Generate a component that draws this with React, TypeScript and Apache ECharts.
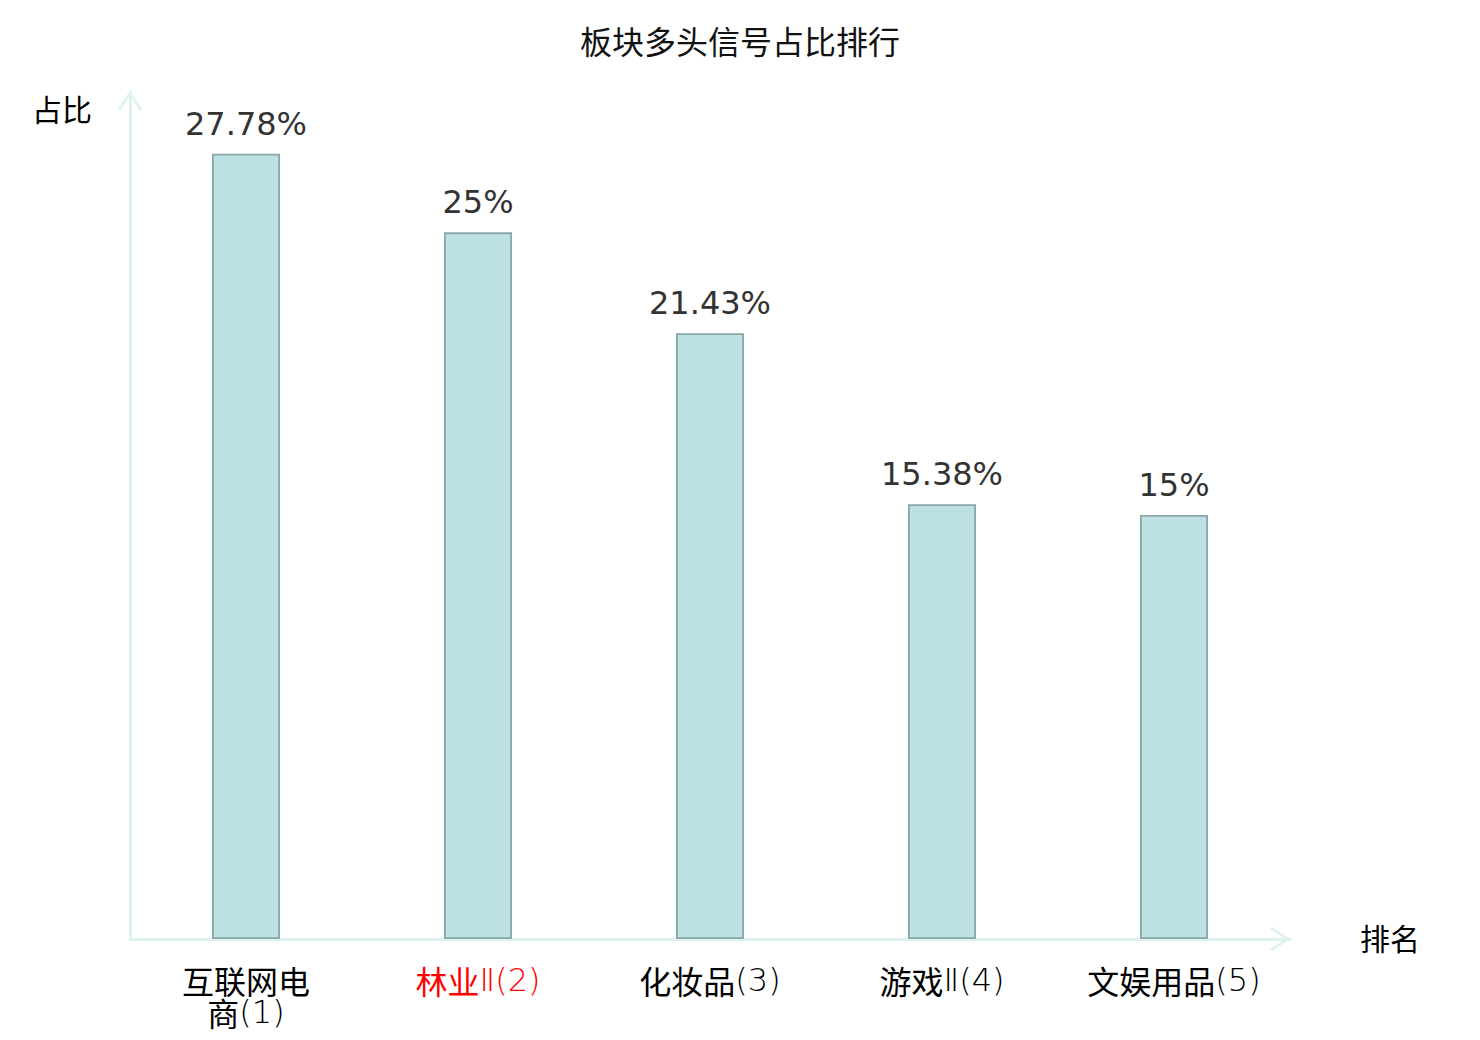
import React, { useEffect, useRef } from 'react';
import * as echarts from 'echarts';

const titleText = '板块多头信号占比排行';
const categories = ['互联网电商', '林业Ⅱ', '化妆品', '游戏Ⅱ', '文娱用品'];
const ranks = [1, 2, 3, 4, 5];
const values = [27.78, 25, 21.43, 15.38, 15];
const highlightIndex = 1;
const yAxisName = '占比';
const xAxisName = '排名';
const yMax = 30;

const chevron = 'path://M12,0 L24,18 L22,20.5 L12,4.5 L2,20.5 L0,18 Z';
const axisColor = '#def2ef';

function wrapName(name: string, per: number) {
  const parts: string[] = [];
  for (let i = 0; i < name.length; i += per) parts.push(name.slice(i, i + per));
  return parts.join('\n');
}

const latinRe = /^[A-Za-z0-9()\u2160-\u217F]+$/;
function richLine(line: string, red: boolean) {
  const segs = line.match(/[A-Za-z0-9()\u2160-\u217F]+|[^A-Za-z0-9()\u2160-\u217F]+/g) || [];
  return segs.map((s) => `{${latinRe.test(s) ? 'l' : 'c'}${red ? 'r' : ''}|${s}}`).join('');
}

const cjkStyle = { fontSize: 32, lineHeight: 32, fontFamily: '"Noto Sans CJK SC"', fontWeight: 'normal' };
const latinStyle = { fontSize: 32, lineHeight: 32, fontFamily: '"DejaVu Sans"', fontWeight: 200 };

export default function App() {
  const ref = useRef<HTMLDivElement>(null);
  useEffect(() => {
    document.body.style.margin = '0';
    const chart = echarts.init(ref.current!, undefined, { renderer: 'svg' });
    const labels = categories.map((c, i) => wrapName(c, 4) + '(' + ranks[i] + ')');
    chart.setOption({
      animation: false,
      backgroundColor: '#fff',
      title: {
        text: titleText,
        left: 'center',
        top: 22,
        textStyle: { fontSize: 32, fontWeight: 'normal', color: '#111', fontFamily: '"DejaVu Sans", "Noto Sans CJK SC"' },
      },
      grid: { left: 130, right: 190, top: 91, bottom: 101, outerBoundsMode: 'none' },
      xAxis: {
        type: 'category',
        data: labels,
        name: xAxisName,
        nameGap: 70,
        nameMoveOverlap: false,
        nameTextStyle: { fontSize: 30, color: '#000', fontFamily: '"DejaVu Sans", "Noto Sans CJK SC"' },
        axisTick: { show: false },
        axisLine: {
          show: true,
          lineStyle: { color: axisColor, width: 3 },
          symbol: ['none', chevron],
          symbolSize: [24, 21],
          symbolOffset: [0, -10],
        },
        axisLabel: {
          fontSize: 32,
          lineHeight: 32,
          margin: 25,
          interval: 0,
          formatter: (value: string, idx: number) =>
            value.split('\n').map((line) => richLine(line, idx === highlightIndex)).join('\n'),
          rich: {
            c: { ...cjkStyle, color: '#000' },
            l: { ...latinStyle, color: '#000' },
            cr: { ...cjkStyle, color: '#f00' },
            lr: { ...latinStyle, color: '#f00' },
          },
        },
      },
      yAxis: {
        type: 'value',
        min: 0,
        max: yMax,
        name: yAxisName,
        nameGap: -19,
        nameMoveOverlap: false,
        nameTextStyle: {
          fontSize: 30,
          color: '#000',
          fontFamily: '"DejaVu Sans", "Noto Sans CJK SC"',
          align: 'right',
          verticalAlign: 'middle',
          padding: [0, 38, 0, 0],
        },
        axisLine: {
          show: true,
          lineStyle: { color: axisColor, width: 3 },
          symbol: ['none', chevron],
          symbolSize: [24, 21],
          symbolOffset: [0, -10],
        },
        axisTick: { show: false },
        axisLabel: { show: false },
        splitLine: { show: false },
      },
      series: [
        {
          type: 'bar',
          data: values,
          barWidth: 68,
          itemStyle: { color: '#bce0e3', borderColor: '#8aa6a7', borderWidth: 1.8 },
          label: {
            show: true,
            position: 'top',
            distance: 14,
            formatter: '{c}%',
            fontSize: 32,
            fontFamily: 'DejaVu Sans',
            color: '#333',
          },
        },
      ],
    });
    return () => chart.dispose();
  }, []);
  return <div ref={ref} style={{ width: 1480, height: 1040 }} />;
}
